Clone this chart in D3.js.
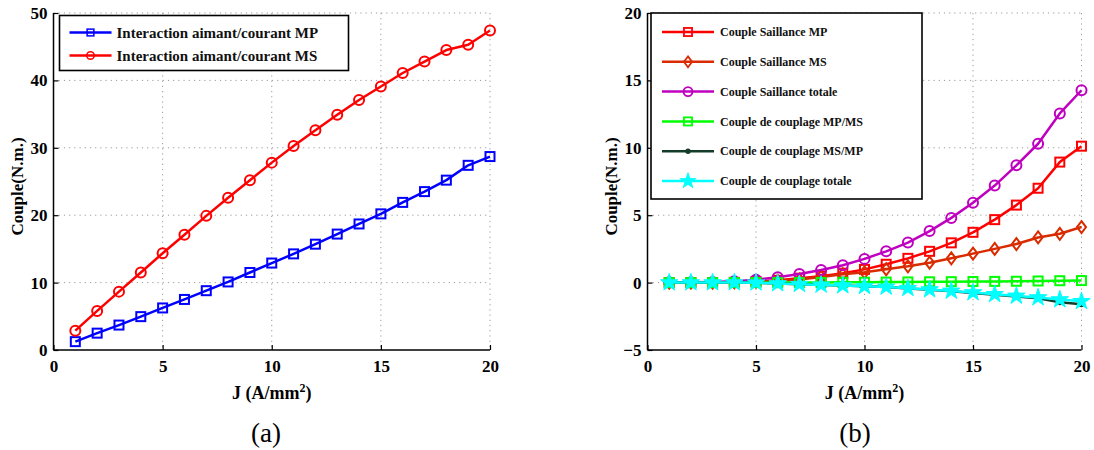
<!DOCTYPE html>
<html>
<head>
<meta charset="utf-8">
<script src="https://cdn.jsdelivr.net/npm/d3@7"></script>
<style>
  html, body { margin: 0; padding: 0; background: #fff; }
  svg { display: block; }
  text { font-family: "Liberation Serif", "Times New Roman", serif; }
</style>
</head>
<body>
<svg id="fig" width="1094" height="450"></svg>
<script>
// Current density J (A/mm²)
const J = [1, 2, 3, 4, 5, 6, 7, 8, 9, 10, 11, 12, 13, 14, 15, 16, 17, 18, 19, 20];

// (a) Magnet / current interaction torque (N.m.)
const interactionMP = [1.24, 2.5, 3.7, 4.95, 6.24, 7.5, 8.8, 10.1, 11.5, 12.9, 14.26, 15.7, 17.2, 18.7, 20.2, 21.9, 23.5, 25.2, 27.4, 28.7];
const interactionMS = [2.87, 5.8, 8.66, 11.5, 14.36, 17.1, 19.9, 22.6, 25.2, 27.8, 30.25, 32.6, 34.9, 37.1, 39.1, 41.1, 42.8, 44.5, 45.3, 47.4];

// (b) Saliency and coupling torques (N.m.)
const saillanceMP = [0, 0, 0, 0.02, 0.08, 0.17, 0.33, 0.47, 0.7, 0.98, 1.36, 1.8, 2.32, 2.95, 3.73, 4.67, 5.75, 7.0, 8.94, 10.12];
const saillanceMS = [0, 0, 0, 0.02, 0.07, 0.13, 0.22, 0.42, 0.62, 0.76, 0.99, 1.21, 1.48, 1.8, 2.15, 2.5, 2.86, 3.35, 3.62, 4.12];
const saillanceTotale = [0.02, 0.03, 0.05, 0.1, 0.22, 0.4, 0.64, 0.94, 1.29, 1.76, 2.32, 2.97, 3.82, 4.8, 5.93, 7.2, 8.7, 10.3, 12.55, 14.27];
const couplageMPMS = [0, 0, 0, 0, 0, 0, 0, 0.01, 0.02, 0.03, 0.04, 0.05, 0.06, 0.07, 0.08, 0.09, 0.1, 0.12, 0.14, 0.15];
const couplageMSMP = [0, 0, 0, 0, -0.02, -0.07, -0.12, -0.17, -0.22, -0.27, -0.33, -0.43, -0.53, -0.64, -0.77, -0.9, -1.04, -1.16, -1.46, -1.6];
const couplageTotale = [0, 0, 0, 0, -0.01, -0.07, -0.12, -0.17, -0.22, -0.27, -0.32, -0.42, -0.52, -0.62, -0.74, -0.87, -0.99, -1.11, -1.26, -1.39];

const xTicks = [0, 5, 10, 15, 20];
const yTicksA = [0, 10, 20, 30, 40, 50];
const yTicksB = [-5, 0, 5, 10, 15, 20];

const svg = d3.select("#fig");

function drawMarker(g, type, x, y, color) {
  if (type === "square") {
    g.append("rect").attr("x", x - 4.5).attr("y", y - 4.5).attr("width", 9).attr("height", 9)
      .attr("fill", "none").attr("stroke", color).attr("stroke-width", 2);
  } else if (type === "circle") {
    g.append("circle").attr("cx", x).attr("cy", y).attr("r", 5)
      .attr("fill", "none").attr("stroke", color).attr("stroke-width", 2);
  } else if (type === "diamond") {
    g.append("path").attr("d", `M${x},${y - 6}L${x + 4.5},${y}L${x},${y + 6}L${x - 4.5},${y}Z`)
      .attr("fill", "none").attr("stroke", color).attr("stroke-width", 2);
  } else if (type === "dot") {
    g.append("circle").attr("cx", x).attr("cy", y).attr("r", 3).attr("fill", color);
  } else if (type === "star") {
    g.append("path").attr("d", d3.symbol(d3.symbolStar, 95)()).attr("transform", `translate(${x},${y})`)
      .attr("fill", color).attr("stroke", color).attr("stroke-width", 1);
  }
}

function panel(opts) {
  const { x0, x1, y0, y1, yDomain, yTicks, series, legend, caption } = opts;
  const x = d3.scaleLinear().domain([0, 20]).range([x0, x1]);
  const y = d3.scaleLinear().domain(yDomain).range([y1, y0]);
  const g = svg.append("g");

  // dotted grid
  const grid = g.append("g").attr("stroke", "#9a9a9a").attr("stroke-width", 1).attr("stroke-dasharray", "1.2,4");
  xTicks.filter(t => t > 0).forEach(t => {
    grid.append("line").attr("x1", x(t)).attr("x2", x(t)).attr("y1", y0).attr("y2", y1);
  });
  yTicks.filter(t => t > yDomain[0]).forEach(t => {
    grid.append("line").attr("x1", x0).attr("x2", x1).attr("y1", y(t)).attr("y2", y(t));
  });

  // axes with inward ticks
  const xAxis = d3.axisBottom(x).tickValues(xTicks).tickSize(-5).tickPadding(10).tickFormat(d3.format("d"));
  const yAxis = d3.axisLeft(y).tickValues(yTicks).tickSize(-5).tickPadding(6)
    .tickFormat(d => d < 0 ? "\u2212" + Math.abs(d) : d);
  const gx = g.append("g").attr("transform", `translate(0,${y1})`).call(xAxis);
  const gy = g.append("g").attr("transform", `translate(${x0},0)`).call(yAxis);
  [gx, gy].forEach(a => {
    a.select(".domain").attr("stroke", "#000").attr("stroke-width", 1.5);
    a.selectAll(".tick line").attr("stroke", "#000").attr("stroke-width", 1.2);
    a.selectAll(".tick text").attr("fill", "#000").attr("font-size", 17).attr("font-weight", "bold")
      .style("font-family", "'Liberation Serif', serif");
  });
  gy.select(".domain").attr("d", `M0,${y1}V${y0}`);
  gx.select(".domain").attr("d", `M${x0},0H${x1}`);

  // series
  series.forEach(s => {
    const line = d3.line().x((d, i) => x(J[i])).y(d => y(d));
    g.append("path").datum(s.values).attr("d", line).attr("fill", "none")
      .attr("stroke", s.color).attr("stroke-width", 2.5).attr("stroke-linejoin", "round");
    const mg = g.append("g");
    s.values.forEach((v, i) => drawMarker(mg, s.marker, x(J[i]), y(v), s.color));
  });

  // legend
  const lg = g.append("g");
  lg.append("rect").attr("x", legend.x).attr("y", legend.y).attr("width", legend.w).attr("height", legend.h)
    .attr("fill", "#fff").attr("stroke", "#000").attr("stroke-width", 1.6);
  series.forEach((s, i) => {
    const cy = legend.y + legend.first + i * legend.step;
    lg.append("line").attr("x1", legend.x + legend.l0).attr("x2", legend.x + legend.l1)
      .attr("y1", cy).attr("y2", cy).attr("stroke", s.color).attr("stroke-width", 2.5);
    const lm = lg.append("g");
    drawMarker(lm, s.marker, legend.x + (legend.l0 + legend.l1) / 2, cy, s.color);
    lm.attr("transform", `translate(${legend.x + (legend.l0 + legend.l1) / 2},${cy}) scale(${legend.ms}) translate(${-(legend.x + (legend.l0 + legend.l1) / 2)},${-cy})`);
    lg.append("text").attr("x", legend.x + legend.tx).attr("y", cy).attr("dy", "0.35em")
      .attr("font-size", legend.fs).attr("font-weight", "bold").attr("fill", "#111").text(s.name);
  });

  // axis titles
  const xl = g.append("text").attr("x", (x0 + x1) / 2).attr("y", 399).attr("text-anchor", "middle")
    .attr("font-size", 18).attr("font-weight", "bold");
  xl.append("tspan").text("J (A/mm");
  xl.append("tspan").attr("dy", -7).attr("font-size", 12).text("2");
  xl.append("tspan").attr("dy", 7).text(")");

  g.append("text").attr("transform", `translate(${x0 - 31},${(y0 + y1) / 2 + 5}) rotate(-90)`)
    .attr("text-anchor", "middle").attr("font-size", 17).attr("font-weight", "bold").text("Couple(N.m.)");

  g.append("text").attr("x", caption).attr("y", 442).attr("text-anchor", "middle")
    .attr("font-size", 27).attr("fill", "#000").text(opts.label);
}

panel({
  x0: 53.5, x1: 490, y0: 13, y1: 350, yDomain: [0, 50], yTicks: yTicksA, caption: 266, label: "(a)",
  series: [
    { name: "Interaction aimant/courant MP", values: interactionMP, color: "#0000ff", marker: "square" },
    { name: "Interaction aimant/courant MS", values: interactionMS, color: "#ff0000", marker: "circle" }
  ],
  legend: { x: 59.5, y: 15.5, w: 289, h: 55, first: 17, step: 23, l0: 10, l1: 52, tx: 57, fs: 15, ms: 0.75 }
});

panel({
  x0: 647.5, x1: 1081.5, y0: 13, y1: 350, yDomain: [-5, 20], yTicks: yTicksB, caption: 855, label: "(b)",
  series: [
    { name: "Couple Saillance MP", values: saillanceMP, color: "#ff0000", marker: "square" },
    { name: "Couple Saillance MS", values: saillanceMS, color: "#d92b00", marker: "diamond" },
    { name: "Couple Saillance totale", values: saillanceTotale, color: "#bf00bf", marker: "circle" },
    { name: "Couple de couplage MP/MS", values: couplageMPMS, color: "#00ff00", marker: "square" },
    { name: "Couple de couplage MS/MP", values: couplageMSMP, color: "#143c28", marker: "dot" },
    { name: "Couple de couplage totale", values: couplageTotale, color: "#00ffff", marker: "star" }
  ],
  legend: { x: 651, y: 13, w: 271, h: 186, first: 19, step: 29.8, l0: 11, l1: 63, tx: 69, fs: 12, ms: 0.9 }
});
</script>
</body>
</html>
